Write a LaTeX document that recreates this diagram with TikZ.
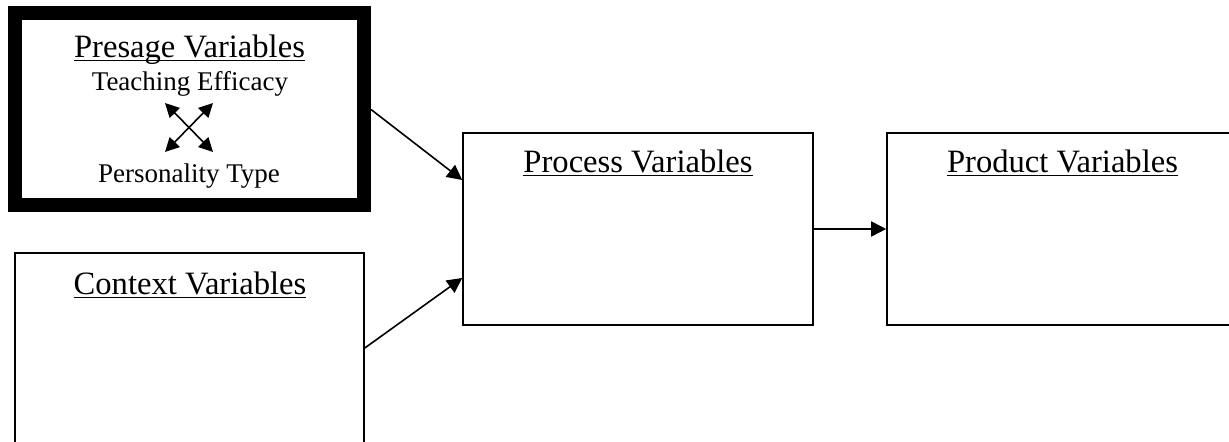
\documentclass[tikz,border=0pt]{standalone}
\usepackage{fontspec}
\setmainfont{Liberation Serif}
\usetikzlibrary{arrows.meta}
\newcommand{\ttl}[1]{\underline{\smash{#1}}}
\begin{document}
\begin{tikzpicture}[x=0.5pt, y=-0.5pt, >={Triangle[length=7.5pt,width=7.5pt]},
	varbox/.style={draw, line width=0.8pt, minimum width=175pt, minimum height=96pt, inner sep=0pt},
	title/.style={font=\fontsize{16.3}{19}\selectfont, anchor=base, inner sep=0pt},
	sub/.style={font=\fontsize{13.5}{16}\selectfont, anchor=base, inner sep=0pt},
	tip/.style={Triangle[length=7pt,width=7pt]},
	link/.style={->, line width=0.8pt}]
	\useasboundingbox (0,0) rectangle (1229,442);
	% boxes
	\node[varbox, line width=7pt, minimum width=174.5pt] (presage) at (189.5,109.5) {};
	\node[varbox, minimum width=174.5pt, minimum height=95pt] (context) at (189.5,348) {};
	\node[varbox] (process) at (638,229) {};
	\node[varbox, minimum width=180pt] (product) at (1067,229) {};
	% titles
	\node[title] (presaget) at (189.5,58) {\ttl{Presage Variables}};
	\node[title] (contextt) at (190,295) {\ttl{Context Variables}};
	\node[title] (processt) at (638,173) {\ttl{Process Variables}};
	\node[title] (productt) at (1062.5,173) {\ttl{Product Variables}};
	\node[sub] (efficacy) at (190,91) {Teaching Efficacy};
	\node[sub] (personality) at (189,183) {Personality Type};
	% small crossed arrows
	\draw[{Triangle[length=7pt,width=7pt]}-{Triangle[length=7pt,width=7pt]}, line width=0.8pt] (165,103) -- (213,152);
	\draw[{Triangle[length=7pt,width=7pt]}-{Triangle[length=7pt,width=7pt]}, line width=0.8pt] (213,103) -- (165,152);
	% links
	\draw[link] (presage.east) -- ([yshift=24.5pt]process.west);
	\draw[link] (context.east) -- ([yshift=-24.5pt]process.west);
	\draw[link] (process.east) -- (product.west);
\end{tikzpicture}
\end{document}
